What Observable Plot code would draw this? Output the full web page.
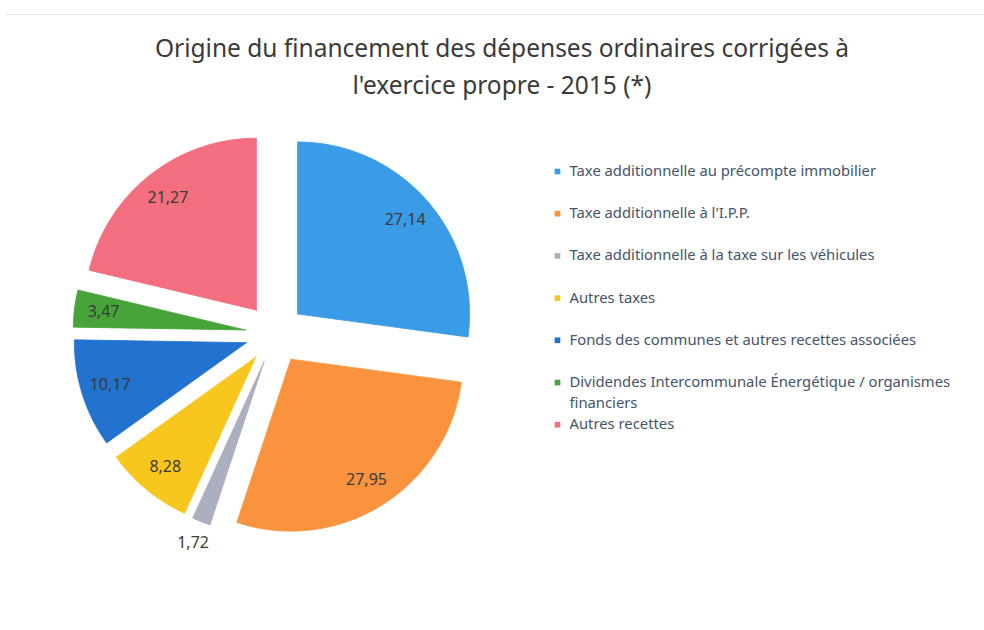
<!DOCTYPE html>
<html><head><meta charset="utf-8">
<script src="https://cdn.jsdelivr.net/npm/d3@7"></script>
<script src="https://cdn.jsdelivr.net/npm/@observablehq/plot@0.6"></script>
<style>
body{margin:0;background:#fff;}
#wrap{position:relative;width:984px;height:630px;overflow:hidden;font-family:"Noto Sans",sans-serif;background:#fff;}
#topline{position:absolute;left:5px;right:0;top:14px;border-top:1px solid #e6e6e6;}
#title{box-sizing:border-box;height:110px;padding-top:29px;padding-left:20px;text-align:center;font-size:24.5px;line-height:37px;color:#3a3a3a;}
</style></head><body>
<div id="wrap"><div id="topline"></div>
<div id="title">Origine du financement des dépenses ordinaires corrigées à<br>l'exercice propre - 2015 (*)</div>
<div id="chart"></div></div>
<script>
const categories = [
  "Taxe additionnelle au précompte immobilier",
  "Taxe additionnelle à l'I.P.P.",
  "Taxe additionnelle à la taxe sur les véhicules",
  "Autres taxes",
  "Fonds des communes et autres recettes associées",
  "Dividendes Intercommunale Énergétique / organismes financiers",
  "Autres recettes"
];
const values = [27.14, 27.95, 1.72, 8.28, 10.17, 3.47, 21.27];
const valueLabels = ["27,14", "27,95", "1,72", "8,28", "10,17", "3,47", "21,27"];
const colors = ["#3a9be6", "#fa933e", "#aab0bf", "#f8c71f", "#2272cf", "#48a43a", "#f36e7f"];

const W = 984, H = 520;
const CX = 274.5, CY = 223.2, R = 172, EXPLODE = 30;

const arcs = d3.pie().sort(null).value(d => d)(values);

const slicePts = [];
const labelData = [];
arcs.forEach((a, i) => {
  const cat = categories[i];
  const m = (a.startAngle + a.endAngle) / 2;
  const ox = CX + EXPLODE * Math.sin(m), oy = CY - EXPLODE * Math.cos(m);
  slicePts.push({cat, x: ox, y: oy});
  const n = Math.max(2, Math.ceil((a.endAngle - a.startAngle) / (Math.PI / 180)));
  for (let k = 0; k <= n; k++) {
    const t = a.startAngle + (a.endAngle - a.startAngle) * k / n;
    slicePts.push({cat, x: ox + R * Math.sin(t), y: oy - R * Math.cos(t)});
  }
  slicePts.push({cat, x: ox, y: oy});
  const share = values[i] / d3.sum(values);
  const lr = share < 0.02 ? R * 1.13 : R * 0.83;
  labelData.push({cat, text: valueLabels[i], x: ox + lr * Math.sin(m), y: oy - lr * Math.cos(m)});
});

const LEG_X = 557, LEG_Y0 = 61, LEG_STEP = 42.2;
const legendData = categories.map((c, i) => ({cat: c, x: LEG_X, y: LEG_Y0 + i * LEG_STEP}));

const chart = Plot.plot({
  width: W, height: H,
  margin: 0,
  style: {fontFamily: "Noto Sans, sans-serif", background: "#fff"},
  x: {domain: [0, W], range: [0, W], axis: null},
  y: {domain: [0, H], range: [0, H], axis: null},
  color: {domain: categories, range: colors},
  marks: [
    Plot.line(slicePts, {x: "x", y: "y", z: "cat", fill: "cat", stroke: "cat", strokeWidth: 0.8, curve: "linear"}),
    Plot.text(labelData, {x: "x", y: "y", text: "text", fontSize: 16, fill: "#3a3a3a"}),
    Plot.dot(legendData, {x: "x", y: "y", symbol: "square", r: 3.2, fill: "cat", stroke: null}),
    Plot.text(legendData, {x: d => d.x + 12, y: d => d.y - 10.5, text: "cat", textAnchor: "start", lineAnchor: "top", lineWidth: 29, lineHeight: 1.42, fontSize: 14.8, fill: "#44546a"})
  ]
});
document.getElementById("chart").appendChild(chart);
</script>
</body></html>
